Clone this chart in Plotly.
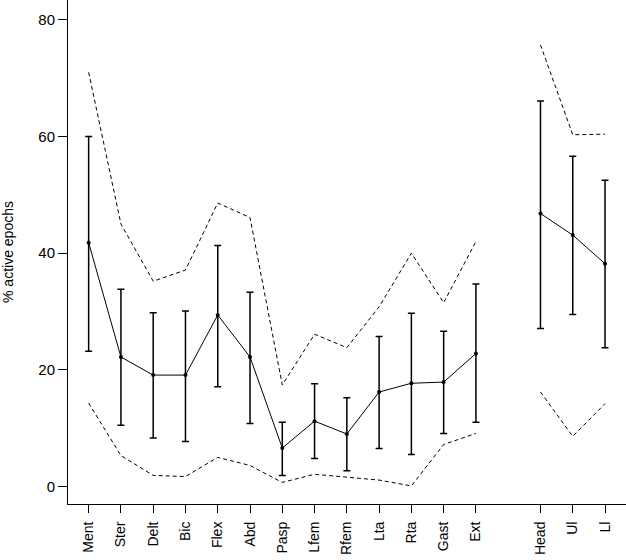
import plotly.graph_objects as go

# muscle sites and body regions (x axis)
muscles = ["Ment", "Ster", "Delt", "Bic", "Flex", "Abd", "Pasp", "Lfem", "Rfem", "Lta", "Rta", "Gast", "Ext"]
regions = ["Head", "Ul", "Ll"]

# % active epochs: mean, error bar top / bottom, dashed upper / lower range
mean_m = [41.8, 22.2, 19.1, 19.1, 29.4, 22.2, 6.6, 11.2, 9.0, 16.2, 17.7, 17.9, 22.8]
top_m = [60.0, 33.8, 29.8, 30.1, 41.3, 33.3, 11.0, 17.6, 15.2, 25.7, 29.7, 26.6, 34.7]
bot_m = [23.2, 10.5, 8.3, 7.7, 17.1, 10.8, 1.9, 4.8, 2.7, 6.5, 5.5, 9.1, 11.0]
hi_m = [71.0, 45.0, 35.2, 37.1, 48.6, 46.1, 17.4, 26.1, 23.8, 30.8, 40.0, 31.5, 42.0]
lo_m = [14.3, 5.3, 1.9, 1.7, 5.0, 3.6, 0.7, 2.1, 1.6, 1.1, 0.1, 7.2, 9.1]

mean_r = [46.8, 43.1, 38.2]
top_r = [66.1, 56.6, 52.5]
bot_r = [27.1, 29.5, 23.8]
hi_r = [75.7, 60.3, 60.4]
lo_r = [16.2, 8.6, 14.2]

x_m = list(range(1, len(muscles) + 1))
x_r = list(range(len(muscles) + 2, len(muscles) + 2 + len(regions)))

fig = go.Figure()

for xs, mean, top, bot, hi, lo in [(x_m, mean_m, top_m, bot_m, hi_m, lo_m),
                                   (x_r, mean_r, top_r, bot_r, hi_r, lo_r)]:
    for band in (hi, lo):
        fig.add_trace(go.Scatter(x=xs, y=band, mode="lines",
                                 line=dict(color="black", width=1, dash="4px,3px")))
    fig.add_trace(go.Scatter(
        x=xs, y=mean, mode="lines+markers",
        line=dict(color="black", width=1),
        marker=dict(color="black", size=4),
        error_y=dict(type="data", symmetric=False,
                     array=[t - m for t, m in zip(top, mean)],
                     arrayminus=[m - b for m, b in zip(mean, bot)],
                     color="black", thickness=1.5, width=3.5),
    ))

fig.update_layout(
    width=626, height=560,
    margin=dict(l=68, r=0, t=0, b=56),
    plot_bgcolor="white", paper_bgcolor="white",
    showlegend=False,
    font=dict(family="Liberation Sans, Arial", size=14, color="black"),
)
fig.update_xaxes(
    range=[0.36, 17.65], tickvals=x_m + x_r, ticktext=muscles + regions,
    tickangle=-90, ticks="outside", ticklen=8, tickwidth=1, tickcolor="black",
    ticklabelstandoff=3,
    showline=True, linecolor="black", linewidth=1, showgrid=False, zeroline=False,
    automargin=False,
)
fig.update_yaxes(
    range=[-3.0, 83.4], tickvals=[0, 20, 40, 60, 80],
    ticks="outside", ticklen=9, tickwidth=1, tickcolor="black",
    tickfont=dict(size=15),
    showline=True, linecolor="black", linewidth=1, showgrid=False, zeroline=False,
    title=dict(text="% active epochs", standoff=22, font=dict(size=14)),
    automargin=False,
)

# drop the browser's default 8px body margin so the figure sits at the page corner
fig.write_html("out.html", config={"displayModeBar": False},
               post_script="document.body.style.margin='0';")
